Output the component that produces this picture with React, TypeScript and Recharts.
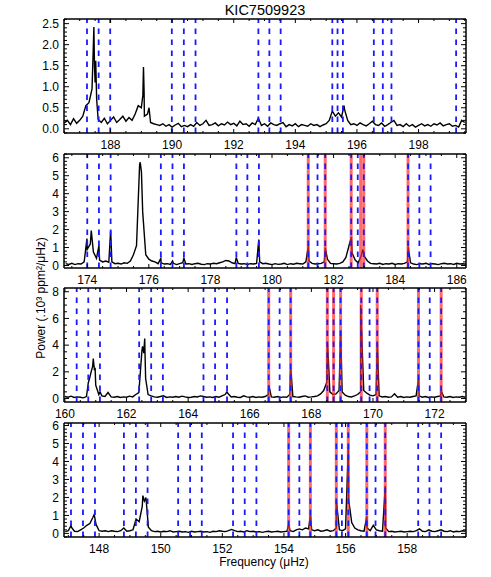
import React from 'react';
import { LineChart, Line, XAxis, YAxis, ReferenceLine } from 'recharts';

const title = 'KIC7509923';
const xTitle = 'Frequency (μHz)';
const yTitle = 'Power (.10³ ppm²/μHz)';

// spectra are sampled every 0.1 μHz from the start value, plus sharp peaks listed separately
const gridStep = 0.1;

// ---- panel 1 (top) ----
const p1XRange = [186.49, 199.54];
const p1YRange = [-0.1, 2.61];
const p1Start = 186.5;
const p1Power = [
  0.14, 0.2, 0.1, 0.24, 0.13, 0.2, 0.3, 0.55, 0.62, 0.95,
  1.1, 0.22, 0.15, 0.25, 0.12, 0.2, 0.28, 0.15, 0.22, 0.3,
  0.18, 0.27, 0.2, 0.35, 0.55, 0.5, 0.3, 0.35, 0.15, 0.12,
  0.1, 0.08, 0.12, 0.06, 0.1, 0.04, 0.09, 0.13, 0.05, 0.08,
  0.05, 0.1, 0.06, 0.15, 0.08, 0.12, 0.2, 0.08, 0.1, 0.14,
  0.07, 0.12, 0.09, 0.16, 0.1, 0.13, 0.07, 0.18, 0.1, 0.12,
  0.06, 0.14, 0.1, 0.25, 0.08, 0.12, 0.06, 0.14, 0.1, 0.08,
  0.12, 0.15, 0.05, 0.1, 0.07, 0.12, 0.05, 0.1, 0.08, 0.06,
  0.12, 0.08, 0.1, 0.05, 0.09, 0.12, 0.2, 0.42, 0.3, 0.38,
  0.28, 0.45, 0.2, 0.1, 0.12, 0.08, 0.14, 0.1, 0.07, 0.12,
  0.18, 0.1, 0.08, 0.14, 0.06, 0.1, 0.15, 0.2, 0.08, 0.1,
  0.05, 0.12, 0.06, 0.1, 0.04, 0.08, 0.12, 0.07, 0.1, 0.06,
  0.12, 0.09, 0.14, 0.07, 0.1, 0.12, 0.06, 0.08, 0.04, 0.2,
  0.15,
];
const p1Peaks = [
  [187.44, 1.9], [187.46, 2.42], [187.48, 1.5], [187.52, 1.62], [187.55, 0.7],
  [189.05, 0.8], [189.07, 1.47], [189.09, 0.9], [189.25, 0.5], [195.58, 0.55],
];
const p1Blue = [187.236, 187.615, 187.99, 189.99, 190.38, 190.76, 192.8, 193.157, 193.523,
  195.2, 195.37, 195.544, 196.548, 196.84, 197.12, 199.219];
const p1Red: number[] = [];
const p1XTicks = [188, 190, 192, 194, 196, 198];
const p1YTicks = [0, 0.5, 1, 1.5, 2, 2.5];

// ---- panel 2 ----
const p2XRange = [173.245, 186.3];
const p2YRange = [-0.14, 6.21];
const p2Start = 173.3;
const p2Power = [
  0.1, 0.06, 0.12, 0.05, 0.1, 0.08, 0.2, 0.9, 1.2, 0.75,
  0.4, 0.3, 0.2, 0.25, 0.18, 0.2, 0.1, 0.12, 0.08, 0.15,
  0.12, 0.25, 0.6, 1.1, 5.6, 3.0, 0.6, 0.35, 0.25, 0.2,
  0.1, 0.15, 0.08, 0.1, 0.06, 0.12, 0.05, 0.1, 0.15, 0.08,
  0.1, 0.06, 0.1, 0.12, 0.07, 0.05, 0.1, 0.08, 0.12, 0.1,
  0.15, 0.2, 0.28, 0.25, 0.15, 0.1, 0.12, 0.08, 0.1, 0.06,
  0.1, 0.08, 0.12, 0.2, 0.1, 0.12, 0.08, 0.05, 0.1, 0.06,
  0.08, 0.12, 0.05, 0.1, 0.07, 0.12, 0.1, 0.08, 0.2, 0.25,
  0.12, 0.08, 0.1, 0.12, 0.2, 0.35, 0.12, 0.1, 0.08, 0.12,
  0.2, 0.45, 1.1, 0.7, 0.3, 0.15, 0.55, 0.5, 0.25, 0.12,
  0.1, 0.08, 0.12, 0.06, 0.1, 0.08, 0.12, 0.06, 0.1, 0.08,
  0.12, 0.2, 0.15, 0.08, 0.05, 0.1, 0.08, 0.12, 0.06, 0.1,
  0.08, 0.05, 0.1, 0.12, 0.08, 0.1, 0.06, 0.12, 0.08, 0.1,
  0.07,
];
const p2Peaks = [
  [173.99, 1.5], [174.13, 1.95], [174.38, 1.1], [174.76, 1.95], [175.72, 5.75],
  [175.76, 5.2], [176.39, 0.4], [176.77, 0.25], [177.14, 0.4], [178.84, 0.45],
  [179.57, 1.45], [181.18, 1.1], [181.73, 1.0], [182.58, 1.6], [182.95, 0.9],
  [184.42, 1.05],
];
const p2Blue = [174.0, 174.38, 174.759, 176.39, 176.768, 177.14, 178.843, 179.2, 179.575,
  181.177, 181.478, 181.728, 182.571, 182.785, 182.98, 184.418, 184.785, 185.15];
const p2Red = [181.177, 181.728, 182.571, 182.88, 182.98, 184.418];
const p2XTicks = [174, 176, 178, 180, 182, 184, 186];
const p2YTicks = [0, 1, 2, 3, 4, 5, 6];

// ---- panel 3 ----
const p3XRange = [159.97, 173.02];
const p3YRange = [-0.26, 8.28];
const p3Start = 160.0;
const p3Power = [
  0.15, 0.1, 0.18, 0.08, 0.12, 0.1, 0.05, 0.15, 1.5, 2.4,
  1.0, 0.3, 0.2, 0.15, 0.45, 0.12, 0.1, 0.15, 0.08, 0.12,
  0.1, 0.18, 0.12, 0.3, 0.45, 3.6, 3.4, 0.3, 0.2, 0.12,
  0.1, 0.15, 0.2, 0.08, 0.12, 0.1, 0.15, 0.1, 0.18, 0.12,
  0.08, 0.1, 0.15, 0.12, 0.2, 0.15, 0.1, 0.12, 0.08, 0.15,
  0.1, 0.2, 0.3, 0.35, 0.12, 0.15, 0.1, 0.08, 0.2, 0.12,
  0.1, 0.15, 0.08, 0.12, 0.1, 0.15, 0.3, 0.12, 0.1, 0.15,
  0.08, 0.12, 0.1, 0.3, 0.15, 0.12, 0.1, 0.15, 0.2, 0.1,
  0.12, 0.15, 0.2, 0.35, 0.6, 1.2, 0.5, 0.3, 0.35, 0.6,
  0.5, 0.25, 0.15, 0.12, 0.2, 0.3, 0.5, 0.6, 0.4, 0.25,
  0.2, 0.3, 0.2, 0.12, 0.15, 0.1, 0.12, 0.35, 0.1, 0.15,
  0.08, 0.12, 0.1, 0.15, 0.2, 0.2, 0.1, 0.15, 0.08, 0.12,
  0.1, 0.15, 0.2, 0.12, 0.1, 0.15, 0.08, 0.12, 0.1, 0.15,
  0.1,
];
const p3Peaks = [
  [160.76, 1.2], [160.84, 1.9], [160.92, 3.0], [160.96, 2.1], [160.98, 2.3],
  [161.14, 0.5], [162.52, 3.9], [162.56, 3.4], [162.59, 4.5], [162.62, 1.5],
  [165.26, 0.5], [166.62, 1.0], [167.33, 2.3], [168.52, 4.2], [168.55, 3.0],
  [168.95, 5.1], [169.6, 7.0], [170.14, 4.2], [171.48, 1.5], [172.21, 0.6],
];
const p3Blue = [160.382, 160.758, 161.137, 162.41, 162.8, 163.18, 164.498, 164.874, 165.263,
  166.615, 166.97, 167.328, 168.518, 168.722, 168.949, 169.62, 169.89, 170.138,
  171.477, 171.843, 172.213];
const p3Red = [166.615, 167.328, 168.518, 168.722, 168.949, 169.62, 170.138, 171.477, 172.213];
const p3XTicks = [160, 162, 164, 166, 168, 170, 172];
const p3YTicks = [0, 2, 4, 6, 8];

// ---- panel 4 (bottom) ----
const p4XRange = [146.86, 159.91];
const p4YRange = [-0.2, 6.14];
const p4Start = 146.9;
const p4Power = [
  0.1, 0.15, 0.35, 0.12, 0.1, 0.2, 0.3, 0.45, 0.55, 0.9,
  0.5, 0.15, 0.12, 0.15, 0.1, 0.15, 0.12, 0.1, 0.15, 0.3,
  0.12, 0.15, 0.2, 0.8, 0.65, 1.5, 1.9, 0.35, 0.15, 0.1,
  0.12, 0.08, 0.12, 0.1, 0.15, 0.08, 0.1, 0.12, 0.08, 0.1,
  0.06, 0.12, 0.08, 0.1, 0.12, 0.08, 0.1, 0.06, 0.12, 0.1,
  0.15, 0.12, 0.1, 0.15, 0.22, 0.15, 0.1, 0.12, 0.08, 0.15,
  0.1, 0.12, 0.08, 0.1, 0.06, 0.1, 0.12, 0.08, 0.1, 0.12,
  0.08, 0.1, 0.12, 0.15, 0.1, 0.2, 0.25, 0.2, 0.3, 0.25,
  0.2, 0.15, 0.2, 0.12, 0.15, 0.2, 0.12, 0.15, 0.3, 0.2,
  0.15, 0.25, 1.9, 0.6, 0.3, 0.2, 0.15, 0.12, 0.3, 0.15,
  0.45, 0.2, 0.15, 0.12, 0.3, 0.1, 0.12, 0.08, 0.1, 0.12,
  0.08, 0.1, 0.12, 0.1, 0.15, 0.25, 0.12, 0.1, 0.2, 0.12,
  0.1, 0.15, 0.2, 0.12, 0.1, 0.15, 0.08, 0.12, 0.1, 0.15,
  0.12,
];
const p4Peaks = [
  [147.09, 0.45], [147.84, 1.05], [149.42, 2.1], [149.47, 1.8], [149.52, 2.0],
  [154.15, 0.5], [154.86, 1.05], [155.7, 1.85], [156.09, 4.8], [156.69, 0.95],
  [157.29, 2.65],
];
const p4Blue = [147.087, 147.476, 147.865, 148.805, 149.194, 149.573, 150.565, 150.954, 151.333,
  152.348, 152.727, 153.106, 154.153, 154.5, 154.857, 155.7, 155.881, 156.089,
  156.69, 156.973, 157.288, 158.358, 158.724, 159.103];
const p4Red = [154.153, 154.857, 155.7, 156.089, 156.69, 157.288];
const p4XTicks = [148, 150, 152, 154, 156, 158];
const p4YTicks = [0, 1, 2, 3, 4, 5, 6];

const W = 491;
const PLOT_L = 64;
const PLOT_R = 466;
const TOP_H = 10;
const PLOT_H = 114;
const BOT_H = 25;
const FONT = '"Liberation Sans", Arial, Helvetica, sans-serif';

const buildSeries = (start: number, power: number[], peaks: number[][]) => {
  const pts = power.map((p, i) => ({ f: +(start + i * gridStep).toFixed(3), p }));
  peaks.forEach(([f, p]) => pts.push({ f, p }));
  return pts.sort((a, b) => a.f - b.f);
};

const minorTicks = (range: number[], step: number) => {
  const out: number[] = [];
  for (let v = Math.ceil(range[0] / step) * step; v <= range[1] + 1e-9; v += step) {
    out.push(+v.toFixed(3));
  }
  return out;
};

const panels = [
  { top: 19, xRange: p1XRange, yRange: p1YRange, data: buildSeries(p1Start, p1Power, p1Peaks),
    blue: p1Blue, red: p1Red, xTicks: p1XTicks, yTicks: p1YTicks, xMinor: 0.5, yMinor: 0.1, yDigits: 1 },
  { top: 154, xRange: p2XRange, yRange: p2YRange, data: buildSeries(p2Start, p2Power, p2Peaks),
    blue: p2Blue, red: p2Red, xTicks: p2XTicks, yTicks: p2YTicks, xMinor: 0.5, yMinor: 0.2, yDigits: 0 },
  { top: 288, xRange: p3XRange, yRange: p3YRange, data: buildSeries(p3Start, p3Power, p3Peaks),
    blue: p3Blue, red: p3Red, xTicks: p3XTicks, yTicks: p3YTicks, xMinor: 0.5, yMinor: 0.5, yDigits: 0 },
  { top: 423, xRange: p4XRange, yRange: p4YRange, data: buildSeries(p4Start, p4Power, p4Peaks),
    blue: p4Blue, red: p4Red, xTicks: p4XTicks, yTicks: p4YTicks, xMinor: 0.5, yMinor: 0.2, yDigits: 0 },
];

const isIn = (list: number[], v: number) => list.some((m) => Math.abs(m - v) < 1e-6);

const Panel = ({ cfg }: { cfg: (typeof panels)[number] }) => {
  const yBottom = TOP_H + PLOT_H;
  const xAll = minorTicks(cfg.xRange, cfg.xMinor);
  const yAll = minorTicks(cfg.yRange, cfg.yMinor);
  const axisLine = { stroke: '#000', strokeWidth: 1.5 };

  const bottomTick = (props: any) => {
    const v = props.payload.value;
    const major = isIn(cfg.xTicks, v);
    return (
      <g>
        <line x1={props.x} x2={props.x} y1={yBottom} y2={yBottom - (major ? 4 : 2)} stroke="#000" strokeWidth={1} />
        {major && (
          <text x={props.x} y={yBottom + 15.5} textAnchor="middle" fontSize={12} fontFamily={FONT} fill="#000">
            {v}
          </text>
        )}
      </g>
    );
  };
  const topTick = (props: any) => {
    const major = isIn(cfg.xTicks, props.payload.value);
    return <line x1={props.x} x2={props.x} y1={TOP_H} y2={TOP_H + (major ? 4 : 2)} stroke="#000" strokeWidth={1} />;
  };
  const leftTick = (props: any) => {
    const v = props.payload.value;
    const major = isIn(cfg.yTicks, v);
    return (
      <g>
        <line x1={PLOT_L} x2={PLOT_L + (major ? 5 : 3)} y1={props.y} y2={props.y} stroke="#000" strokeWidth={1} />
        {major && (
          <text x={PLOT_L - 5} y={props.y + 4.3} textAnchor="end" fontSize={12} fontFamily={FONT} fill="#000">
            {v.toFixed(cfg.yDigits)}
          </text>
        )}
      </g>
    );
  };
  const rightTick = (props: any) => {
    const major = isIn(cfg.yTicks, props.payload.value);
    return <line x1={PLOT_R} x2={PLOT_R - (major ? 5 : 3)} y1={props.y} y2={props.y} stroke="#000" strokeWidth={1} />;
  };

  return (
    <div style={{ position: 'absolute', left: 0, top: cfg.top - TOP_H }}>
      <LineChart width={W} height={TOP_H + PLOT_H + BOT_H} data={cfg.data} margin={{ top: 0, right: 0, bottom: 0, left: 0 }}>
        <XAxis xAxisId="b" type="number" dataKey="f" domain={cfg.xRange} allowDataOverflow ticks={xAll} interval={0}
          height={BOT_H} tickSize={0} tickMargin={0} tickLine={false} axisLine={axisLine} tick={bottomTick} />
        <XAxis xAxisId="t" orientation="top" type="number" dataKey="f" domain={cfg.xRange} allowDataOverflow ticks={xAll}
          interval={0} height={TOP_H} tickSize={0} tickMargin={0} tickLine={false} axisLine={axisLine} tick={topTick} />
        <YAxis yAxisId="l" type="number" domain={cfg.yRange} allowDataOverflow ticks={yAll} interval={0}
          width={PLOT_L} tickSize={0} tickMargin={0} tickLine={false} axisLine={axisLine} tick={leftTick} />
        <YAxis yAxisId="r" orientation="right" type="number" domain={cfg.yRange} allowDataOverflow ticks={yAll} interval={0}
          width={W - PLOT_R} tickSize={0} tickMargin={0} tickLine={false} axisLine={axisLine} tick={rightTick} />
        <Line xAxisId="b" yAxisId="l" type="linear" dataKey="p" stroke="#000" strokeWidth={1.4} dot={false}
          isAnimationActive={false} />
        {cfg.red.map((f) => (
          <ReferenceLine key={'r' + f} xAxisId="b" yAxisId="l" x={f} stroke="#ff2a2a" strokeOpacity={0.7} strokeWidth={3} />
        ))}
        {cfg.blue.map((f) => (
          <ReferenceLine key={'b' + f} xAxisId="b" yAxisId="l" x={f} stroke="#1a1aff" strokeWidth={1.8}
            strokeDasharray="5.5 5.5" />
        ))}
      </LineChart>
    </div>
  );
};

export default function App() {
  return (
    <div style={{ position: 'absolute', left: 0, top: 0, width: W, height: 577, background: '#fff', fontFamily: FONT }}>
      {panels.map((cfg, i) => (
        <Panel key={i} cfg={cfg} />
      ))}
      <svg width={W} height={577} style={{ position: 'absolute', left: 0, top: 0, pointerEvents: 'none' }}>
        <text x={265} y={14.7} textAnchor="middle" fontSize={14.5} fontFamily={FONT} fill="#000">{title}</text>
        <text x={264} y={566} textAnchor="middle" fontSize={12} fontFamily={FONT} fill="#000">{xTitle}</text>
        <text x={45.3} y={298} transform="rotate(-90, 45.3, 298)" textAnchor="middle" fontSize={12} fontFamily={FONT}
          fill="#000">{yTitle}</text>
      </svg>
    </div>
  );
}
